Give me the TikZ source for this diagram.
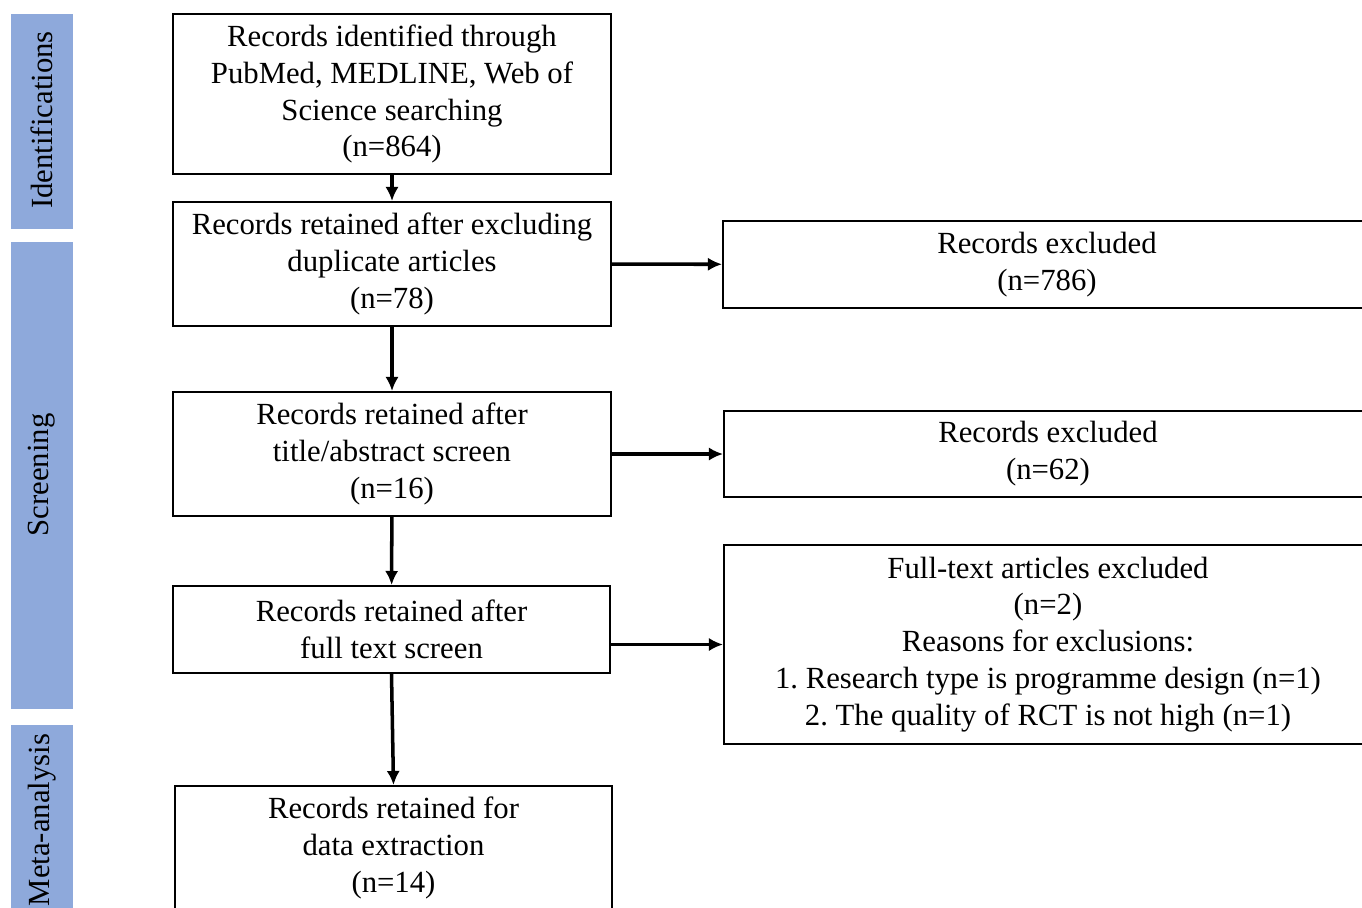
\documentclass[tikz,border=0pt]{standalone}
\usepackage{fontspec}
\setmainfont{Liberation Serif}
\usepackage{tikz}
\usetikzlibrary{arrows.meta}

\definecolor{stagecol}{HTML}{8EA9DB}
\frenchspacing

\begin{document}
\begin{tikzpicture}[
      x=0.02cm, y=-0.02cm,
      box/.style = {draw, line width=1.1pt, align=center, inner sep=2pt,
                    font=\fontsize{17.5}{21}\selectfont},
      stage/.style = {rotate=90, font=\fontsize{17.5}{21}\selectfont},
      link/.style = {->, line width=2pt},
      >={Latex[length=8pt,width=7.5pt]}
    ]
    \def\u{0.02cm}
    \clip (0,0) rectangle (1362,907);

    \fill[white] (0,0) rectangle (1362,907);

    % stage bars
    \foreach \top/\bot/\mid/\name in {14/229/120/Identifications,242/709/475/Screening,725/930/820/Meta-analysis}{
      \fill[stagecol] (11,\top) rectangle (73,\bot);
      \node[stage] (bar-\name) at (42,\mid) {\name};
    }

    % main column
    \node[box, minimum width=438*\u, minimum height=160*\u] (ident) at (392,94)
      {Records identified through\\PubMed, MEDLINE, Web of\\Science searching\\(n=864)};
    \node[box, minimum width=438*\u, minimum height=124*\u] (dedup) at (392,264)
      {Records retained after excluding\\duplicate articles\\(n=78)};
    \node[box, minimum width=438*\u, minimum height=124*\u] (title) at (392,454)
      {Records retained after\\title/abstract screen\\(n=16)};
    \node[box, minimum width=437*\u, minimum height=87*\u] (full) at (391.5,629.5)
      {Records retained after\\full text screen};
    \node[box, minimum width=437*\u, minimum height=124*\u] (data) at (393.5,848)
      {Records retained for\\data extraction\\(n=14)};

    % excluded column
    \node[box, minimum width=648*\u, minimum height=87*\u] (exc1) at (1047,264.5)
      {Records excluded\\(n=786)};
    \node[box, minimum width=648*\u, minimum height=86*\u] (exc2) at (1048,454)
      {Records excluded\\(n=62)};
    \node[box, minimum width=648*\u, minimum height=199*\u] (exc3) at (1048,644.5)
      {Full-text articles excluded\\(n=2)\\Reasons for exclusions:\\1. Research type is programme design (n=1)\\2. The quality of RCT is not high (n=1)};

    \draw[link] (ident) -- (dedup);
    \draw[link] (dedup) -- (title);
    \draw[link] (title) -- (full);
    \draw[link] (full.south) -- (data.north);
    \draw[link] (dedup) -- (exc1);
    \draw[link] (title) -- (exc2);
    \draw[link] (full.east |- exc3) -- (exc3.west);
\end{tikzpicture}
\end{document}
